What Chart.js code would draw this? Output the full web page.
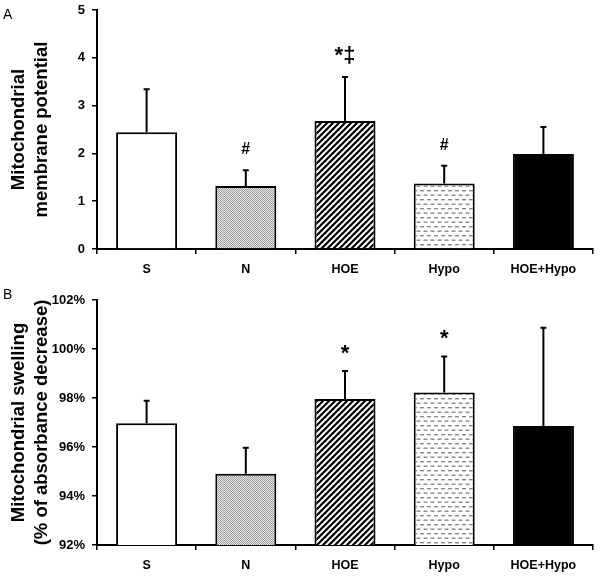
<!DOCTYPE html>
<html><head><meta charset="utf-8">
<script src="https://cdn.jsdelivr.net/npm/chart.js@4"></script>
<style>
html,body{margin:0;padding:0;background:#fff;width:600px;height:577px;overflow:hidden;}
.wrap{position:absolute;left:0;width:600px;}
#wa{top:0;height:280px;}
#wb{top:280px;height:297px;}
.lbl{position:absolute;font-family:"Liberation Sans",Arial,sans-serif;font-size:14px;line-height:14px;color:#000;}
</style></head><body>
<div class="wrap" id="wa"><canvas id="ca" width="600" height="280"></canvas></div>
<div class="wrap" id="wb"><canvas id="cb" width="600" height="297"></canvas></div>
<div class="lbl" style="left:3px;top:7px">A</div>
<div class="lbl" style="left:3px;top:287px">B</div>
<script>
// ---- data ----
const categories = ["S", "N", "HOE", "Hypo", "HOE+Hypo"];
const membraneMean = [2.44, 1.32, 2.68, 1.37, 1.99];
const membraneSD = [0.90, 0.33, 0.92, 0.37, 0.56];
const membraneMarks = ["", "#", "*\u2021", "#", ""];
const swellingMean = [96.97, 94.91, 97.96, 98.22, 96.86];
const swellingSD = [0.92, 1.06, 1.14, 1.47, 4.01];
const swellingMarks = ["", "", "*", "*", ""];
const membraneTitle = ["Mitochondrial", "membrane potential"];
const swellingTitle = ["Mitochondrial swelling", "(% of absorbance decrease)"];

// ---- fill patterns ----
function makePattern(kind) {
  const c = document.createElement('canvas');
  const g = c.getContext('2d');
  if (kind === 'stipple') {
    c.width = 2; c.height = 2;
    g.fillStyle = '#eeeeee'; g.fillRect(0, 0, 2, 2);
    g.fillStyle = '#999999'; g.fillRect(0, 0, 1, 1); g.fillRect(1, 1, 1, 1);
  } else if (kind === 'diag') {
    c.width = 6; c.height = 6;
    g.fillStyle = '#fff'; g.fillRect(0, 0, 6, 6);
    g.strokeStyle = '#000'; g.lineWidth = 2.2;
    g.beginPath();
    g.moveTo(-1, 7); g.lineTo(7, -1);
    g.moveTo(-4, 4); g.lineTo(4, -4);
    g.moveTo(2, 10); g.lineTo(10, 2);
    g.stroke();
  } else if (kind === 'dash') {
    c.width = 7; c.height = 9;
    g.fillStyle = '#fff'; g.fillRect(0, 0, 7, 9);
    g.fillStyle = '#8a8a8a';
    g.fillRect(0, 1, 4, 1.4);
    g.fillRect(3.5, 5.5, 4, 1.4);
    g.fillRect(-3.5, 5.5, 4, 1.4);
  } else if (kind === 'solid') {
    return '#000';
  } else {
    return '#fff';
  }
  return g.createPattern(c, 'repeat');
}
const fills = [makePattern('white'), makePattern('stipple'), makePattern('diag'), makePattern('dash'), makePattern('solid')];

const FONT = '"Liberation Sans", Arial, sans-serif';

const errorPlugin = {
  id: 'errbars',
  afterDatasetsDraw(chart, args, opts) {
    const ctx = chart.ctx;
    const meta = chart.getDatasetMeta(0);
    const ys = chart.scales.y;
    const means = chart.data.datasets[0].data;
    ctx.save();
    meta.data.forEach((bar, i) => {
      const top = ys.getPixelForValue(means[i] + opts.sd[i]);
      ctx.strokeStyle = '#000';
      ctx.lineWidth = 2;
      ctx.beginPath();
      ctx.moveTo(bar.x, bar.y);
      ctx.lineTo(bar.x, top);
      ctx.moveTo(bar.x - 3, top);
      ctx.lineTo(bar.x + 3, top);
      ctx.stroke();
      const mark = opts.marks[i];
      if (mark) {
        ctx.font = 'bold ' + (mark === '#' ? 16 : 22) + 'px ' + FONT;
        ctx.fillStyle = '#000';
        ctx.textAlign = 'center';
        ctx.textBaseline = 'alphabetic';
        const m = ctx.measureText(mark);
        const target = top - 22;
        const base = target + (m.actualBoundingBoxAscent - m.actualBoundingBoxDescent) / 2;
        ctx.fillText(mark, bar.x, base);
      }
    });
    ctx.restore();
  }
};

function makeChart(id, means, sd, marks, title, yMin, yMax, step, fmt, padTop, xHeight) {
  return new Chart(document.getElementById(id), {
    type: 'bar',
    data: {
      labels: categories,
      datasets: [{
        data: means,
        backgroundColor: fills,
        borderColor: '#000',
        borderWidth: 2,
        borderSkipped: 'start',
        categoryPercentage: 1,
        barPercentage: 0.615
      }]
    },
    options: {
      responsive: false,
      animation: false,
      devicePixelRatio: 1,
      layout: { padding: { top: padTop, right: 7, left: 0, bottom: 0 } },
      plugins: {
        legend: { display: false },
        tooltip: { enabled: false },
        errbars: { sd: sd, marks: marks }
      },
      scales: {
        x: {
          grid: { display: true, drawOnChartArea: false, offset: true, tickLength: 5, color: '#000', lineWidth: 1.5 },
          border: { display: true, color: '#000', width: 2 },
          ticks: { color: '#000', font: { family: FONT, size: 12.5, weight: 'bold' }, padding: 8 },
          afterFit(s) { s.height = xHeight; s.paddingLeft = 0; s.paddingRight = 0; }
        },
        y: {
          min: yMin, max: yMax,
          grid: { display: true, drawOnChartArea: false, tickLength: 5, color: '#000', lineWidth: 1.5 },
          border: { display: true, color: '#000', width: 2 },
          ticks: { stepSize: step, color: '#000', font: { family: FONT, size: 13, weight: 'bold' }, padding: 7,
                   callback: fmt },
          title: { display: true, text: title, color: '#000',
                   font: { family: FONT, size: 18.5, weight: 'bold', lineHeight: 1.25 },
                   padding: { top: 7, bottom: 0 } },
          afterFit(s) { s.width = 97; s.paddingTop = 0; s.paddingBottom = 0; }
        }
      }
    },
    plugins: [errorPlugin]
  });
}

makeChart('ca', membraneMean, membraneSD, membraneMarks, membraneTitle, 0, 5, 1, v => v, 10, 31);
makeChart('cb', swellingMean, swellingSD, swellingMarks, swellingTitle, 92, 102, 2, v => v + '%', 20, 32);
</script>
</body></html>
